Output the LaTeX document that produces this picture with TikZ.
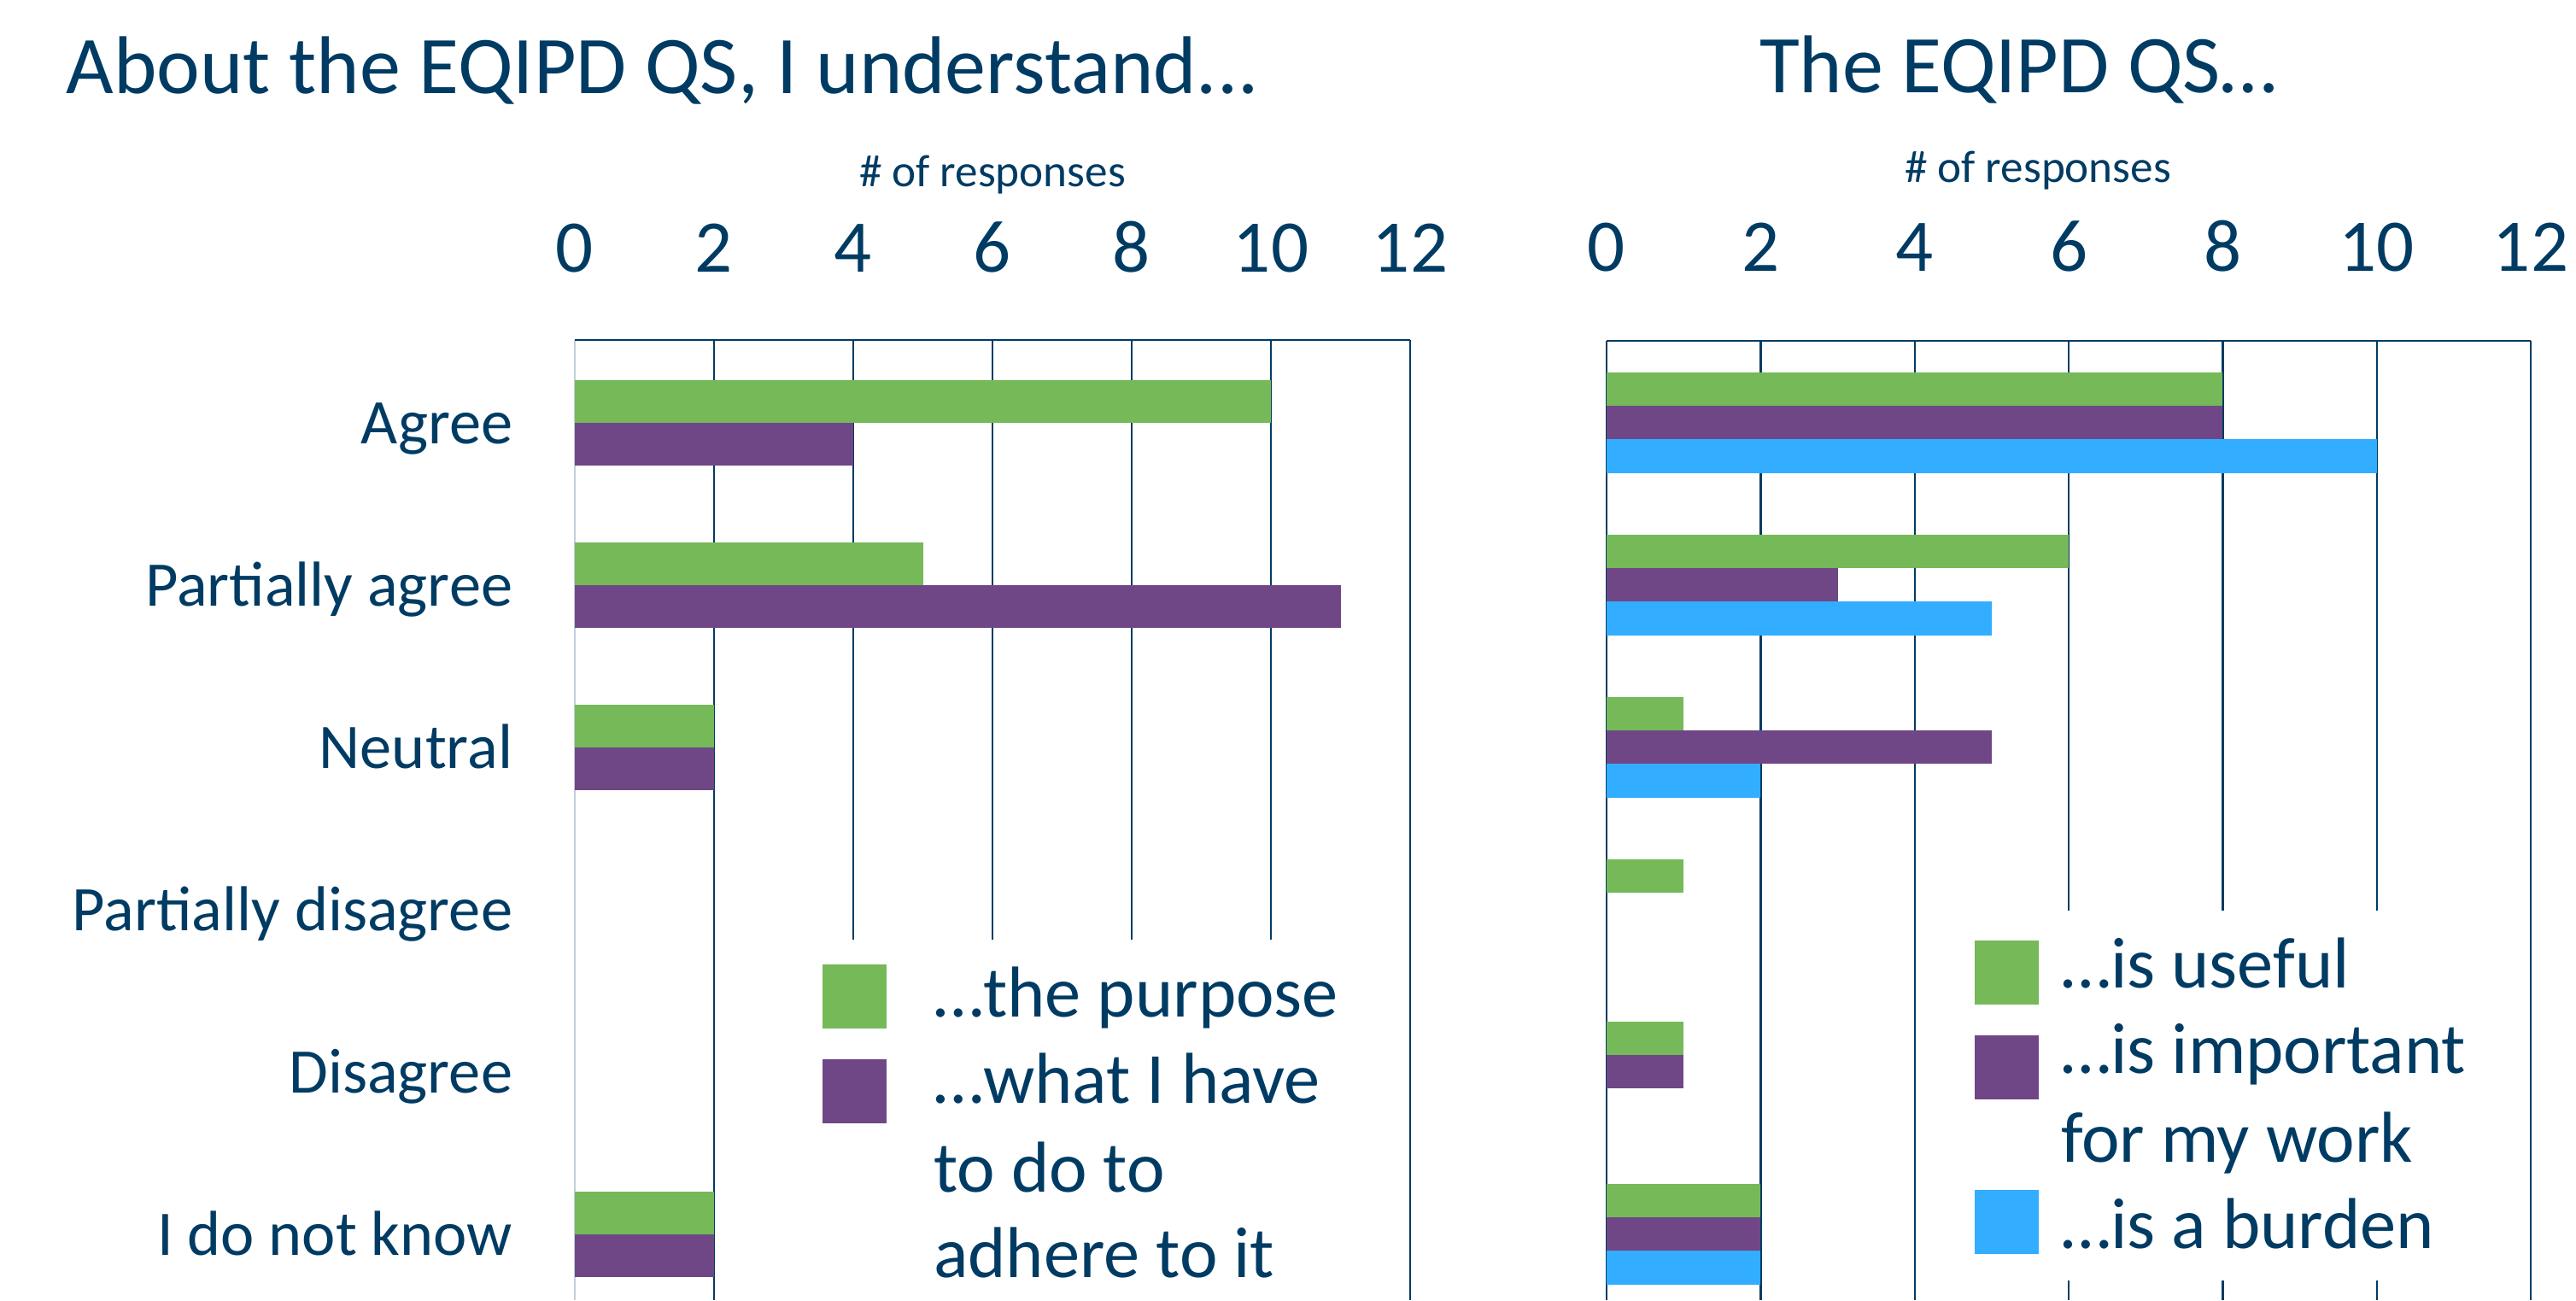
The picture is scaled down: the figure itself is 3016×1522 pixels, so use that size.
\documentclass[tikz,border=0pt]{standalone}
\usepackage{fontspec}
\setmainfont{Carlito}
\usepackage{tikz}
\usetikzlibrary{positioning}

\definecolor{qsnavy}{HTML}{003B63}
\definecolor{qsgreen}{HTML}{75B958}
\definecolor{qsviolet}{HTML}{704786}
\definecolor{qsblue}{HTML}{33ADFF}
\definecolor{qsaxis}{HTML}{BFD0DD}

\begin{document}
\begin{tikzpicture}[x=0.25pt, y=-0.25pt,
        every node/.style={text=qsnavy, inner sep=0pt, outer sep=0pt},
        headline/.style={anchor=base west, font=\fontsize{24}{29}\selectfont},
        unitlabel/.style={anchor=base, font=\fontsize{13.3}{16}\selectfont},
        ticklabel/.style={anchor=base, font=\fontsize{21.75}{26}\selectfont},
        catlabel/.style={anchor=base east, font=\fontsize{18.6}{22}\selectfont},
        legtext/.style={anchor=base west, font=\fontsize{21.1}{25}\selectfont},
        swatch/.style={minimum size=18.75pt, fill=#1},
        gridline/.style={draw=qsnavy, line width=0.6pt}]
                \useasboundingbox (0,0) rectangle (3016,1522);

                \foreach \v in {2,4,...,12}
                    \draw[gridline] ({673+81.5*\v},398) -- ({673+81.5*\v},1522);
                \draw[qsaxis, line width=0.6pt] (673,398) -- (673,1522);
                \draw[gridline] (673,398) -- (1651,398);
                \foreach \v in {0,2,...,12}
                    \draw[gridline] ({1881+90.17*\v},399) -- ({1881+90.17*\v},1522);
                \draw[gridline] (1881,399) -- (2963,399);

                \foreach \v in {0,2,...,12} {
                    \node[ticklabel] (tickL\v) at ({673+81.5*\v},318) {\v};
                    \node[ticklabel] (tickR\v) at ({1881+90.17*\v},317) {\v};
                }

                \foreach \k/\n in {0/10,1/5,2/2,5/2}
                    \fill[qsgreen] (673,{444.5+190*\k}) rectangle ({673+81.5*\n},{494.5+190*\k});
                \foreach \k/\n in {0/4,1/11,2/2,5/2}
                    \fill[qsviolet] (673,{494.5+190*\k}) rectangle ({673+81.5*\n},{544.5+190*\k});

                \foreach \k/\n in {0/8,1/6,2/1,3/1,4/1,5/2}
                    \fill[qsgreen] (1881,{435.5+190*\k}) rectangle ({1881+90.17*\n},{474.8+190*\k});
                \foreach \k/\n in {0/8,1/3,2/5,4/1,5/2}
                    \fill[qsviolet] (1881,{474.8+190*\k}) rectangle ({1881+90.17*\n},{514.2+190*\k});
                \foreach \k/\n in {0/10,1/5,2/2,5/2}
                    \fill[qsblue] (1881,{514.2+190*\k}) rectangle ({1881+90.17*\n},{553.5+190*\k});

                \foreach \k/\t in {0/Agree,1/Partially agree,2/Neutral,3/Partially disagree,4/Disagree,5/I do not know}
                    \node[catlabel] (cat\k) at (600,{519+190*\k}) {\t};

                \node[headline] (titleL) at (78,109) {About the EQIPD QS, I understand...};
                \node[headline] (titleR) at (2060,108) {The EQIPD QS…};
                \node[unitlabel] (unitL) at (1162,218) {\# of responses};
                \node[unitlabel] (unitR) at (2386,213) {\# of responses};

                \fill[white] (945,1100) rectangle (1625,1522);
                \node[swatch=qsgreen] (swPurpose) at (1000.5,1166.5) {};
                \node[swatch=qsviolet] (swAdhere) at (1000.5,1277.5) {};
                \node[legtext] (legPurpose) at (1093,1190) {…the purpose};
                \node[legtext] (legAdhereA) at (1093,1291) {…what I have};
                \node[legtext] (legAdhereB) at (1093,1395) {to do to};
                \node[legtext] (legAdhereC) at (1093,1495) {adhere to it};

                \fill[white] (2260,1066) rectangle (2950,1499);
                \node[swatch=qsgreen] (swUseful) at (2349.5,1138) {};
                \node[swatch=qsviolet] (swImportant) at (2349.5,1249) {};
                \node[swatch=qsblue] (swBurden) at (2349.5,1430.5) {};
                \node[legtext] (legUseful) at (2413,1156) {…is useful};
                \node[legtext] (legImportantA) at (2413,1256) {…is important};
                \node[legtext] (legImportantB) at (2413,1360) {for my work};
                \node[legtext] (legBurden) at (2413,1461) {…is a burden};
            \end{tikzpicture}
\end{document}
